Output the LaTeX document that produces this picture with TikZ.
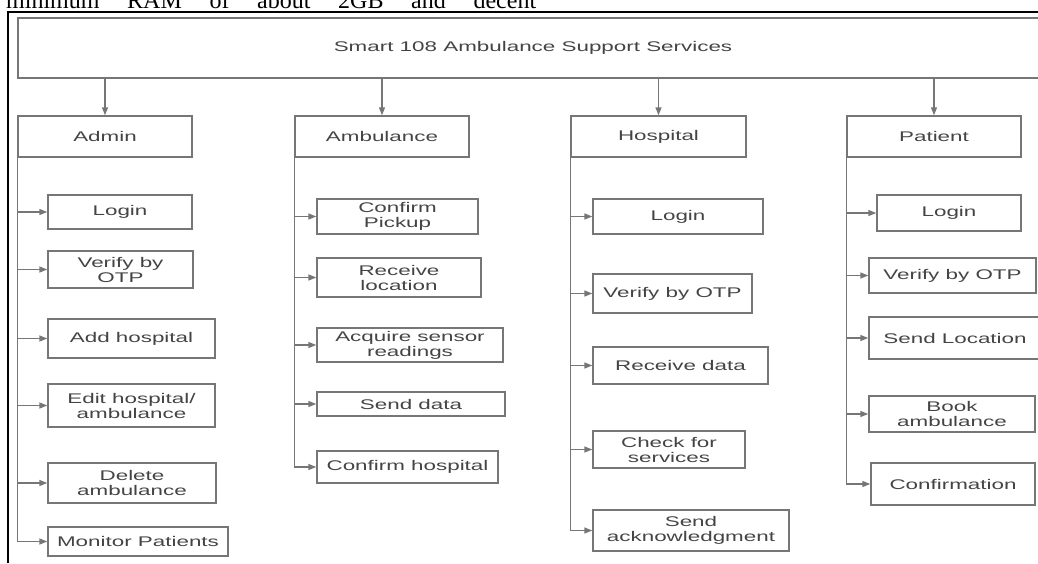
\documentclass[tikz,border=0pt]{standalone}
\usepackage{fontspec}
\usepackage{tikz}
\usetikzlibrary{arrows.meta}
\newfontfamily\boxfont[FakeStretch=1.6]{Liberation Sans}
\newfontfamily\pagefont{Liberation Serif}
\definecolor{linegray}{RGB}{118,118,118}
\definecolor{textgray}{RGB}{68,68,68}

\begin{document}
\begin{tikzpicture}[x=1pt,y=-1pt,
    box/.style={draw=linegray, line width=1.4pt, text=textgray, align=center, inner sep=0pt,
        font=\boxfont\fontsize{14}{15}\selectfont},
    sz/.style 2 args={minimum width=#1pt, minimum height=#2pt},
    conn/.style={draw=linegray, line width=1.4pt, -{Triangle[length=8pt,width=6pt]}},
    branch/.style={to path={|- (\tikztotarget)}}]
    \useasboundingbox (0,0) rectangle (1038,563);
    \clip (0,0) rectangle (1038,563);

    % page around the figure
    \node[anchor=base west, inner sep=0pt, font=\pagefont\fontsize{24}{26}\selectfont]
        (pagetext) at (6,8) {\makebox[530pt][s]{minimum RAM of about 2GB and decent}};
    \draw[line width=2.2pt] (8,563) -- (8,12) -- (1040,12);

    \node[box, sz={1030}{60}] (top) at (533,48) {Smart 108 Ambulance Support Services};

    \node[box, sz={174}{41}] (admin) at (105,136.5) {Admin};
    \node[box, sz={174}{41}] (amb) at (382,136.5) {Ambulance};
    \node[box, sz={175}{41}] (hosp) at (658.5,136.5) {Hospital};
    \node[box, sz={174}{41}] (pat) at (934,136.5) {Patient};

    % admin
    \node[box, sz={144}{34}] (a1) at (120,212) {Login};
    \node[box, sz={145}{37}] (a2) at (120.5,269.5) {Verify by\\OTP};
    \node[box, sz={167}{39}] (a3) at (131.5,338.5) {Add hospital};
    \node[box, sz={167}{43}] (a4) at (131.5,405.5) {Edit hospital/\\ambulance};
    \node[box, sz={168}{40}] (a5) at (132,483) {Delete\\ambulance};
    \node[box, sz={180}{29}] (a6) at (138,541.5) {Monitor Patients};

    % ambulance
    \node[box, sz={161}{35}] (b1) at (397.5,216.5) {Confirm\\Pickup};
    \node[box, sz={164}{39}] (b2) at (399,277.5) {Receive\\location};
    \node[box, sz={186}{34}] (b3) at (410,345) {Acquire sensor\\readings};
    \node[box, sz={188}{24}] (b4) at (411,404) {Send data};
    \node[box, sz={181}{32}] (b5) at (407.5,467) {Confirm hospital};

    % hospital
    \node[box, sz={170}{35}] (c1) at (678,216.5) {Login};
    \node[box, sz={159}{39}] (c2) at (672.5,293.5) {Verify by OTP};
    \node[box, sz={175}{37}] (c3) at (680.5,365.5) {Receive data};
    \node[box, sz={152}{37}] (c4) at (669,449.5) {Check for\\services};
    \node[box, sz={196}{41}] (c5) at (691,530.5) {Send\\acknowledgment};

    % patient
    \node[box, sz={144}{36}] (d1) at (949,213) {Login};
    \node[box, sz={167}{35}] (d2) at (952.5,275.5) {Verify by OTP};
    \node[box, sz={172}{42}] (d3) at (955,338) {Send Location};
    \node[box, sz={166}{36}] (d4) at (952,414) {Book\\ambulance};
    \node[box, sz={164}{42}] (d5) at (953,484) {Confirmation};

    \path[every edge/.style={conn}]
    (top.south -| admin) edge (admin)
    (top.south -| amb) edge (amb)
    (top.south -| hosp) edge (hosp)
    (top.south -| pat) edge (pat);

    \foreach \cat/\kids in {admin/{a1,a2,a3,a4,a5,a6}, amb/{b1,b2,b3,b4,b5},
                            hosp/{c1,c2,c3,c4,c5}, pat/{d1,d2,d3,d4,d5}}
        \foreach \k in \kids
            \path (\cat.south west) edge[conn, branch] (\k.west);
\end{tikzpicture}
\end{document}
